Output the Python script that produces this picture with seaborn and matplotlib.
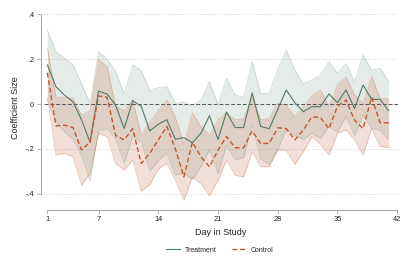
import numpy as np
import matplotlib
matplotlib.use("Agg")
import matplotlib.pyplot as plt
import seaborn as sns
import pandas as pd

days = list(range(1, 42))

treat = [0.175, 0.078, 0.04, 0.01, -0.07, -0.17, 0.058, 0.045, -0.005, -0.11,
         0.015, -0.01, -0.12, -0.09, -0.07, -0.157, -0.15, -0.173, -0.13, -0.052,
         -0.158, -0.035, -0.105, -0.105, 0.05, -0.1, -0.11, -0.024, 0.063, 0.006,
         -0.034, -0.012, -0.012, 0.045, 0.006, 0.063, -0.02, 0.085, 0.021, 0.021,
         -0.03]
treat_hi = [0.33, 0.234, 0.205, 0.175, 0.09, 0.003, 0.234, 0.2, 0.145, 0.045,
            0.175, 0.15, 0.06, 0.073, 0.078, 0.003, 0.01, -0.009, 0.02, 0.1,
            -0.005, 0.115, 0.04, 0.03, 0.19, 0.045, 0.05, 0.155, 0.24, 0.152,
            0.09, 0.107, 0.13, 0.19, 0.137, 0.18, 0.1, 0.22, 0.15, 0.16,
            0.1]
treat_lo = [0.02, -0.078, -0.125, -0.155, -0.23, -0.343, -0.118, -0.11, -0.155, -0.265,
            -0.145, -0.17, -0.3, -0.253, -0.218, -0.317, -0.31, -0.337, -0.28, -0.204,
            -0.311, -0.185, -0.25, -0.24, -0.09, -0.245, -0.27, -0.203, -0.114, -0.14,
            -0.158, -0.131, -0.154, -0.1, -0.125, -0.054, -0.14, -0.05, -0.108, -0.118,
            -0.16]

ctrl = [0.14, -0.098, -0.094, -0.105, -0.205, -0.17, 0.036, 0.03, -0.14, -0.16,
        -0.11, -0.265, -0.22, -0.16, -0.10, -0.2, -0.325, -0.17, -0.236, -0.28,
        -0.206, -0.145, -0.195, -0.195, -0.12, -0.176, -0.176, -0.106, -0.11, -0.16,
        -0.116, -0.057, -0.06, -0.11, -0.01, 0.018, -0.072, -0.11, 0.03, -0.084,
        -0.084]
ctrl_hi = [0.25, 0.032, 0.03, 0.026, -0.05, -0.03, 0.197, 0.167, -0.01, -0.03,
           0.02, -0.14, -0.08, -0.03, 0.018, -0.06, -0.18, -0.04, -0.1, -0.14,
           -0.07, -0.04, -0.07, -0.065, 0.03, -0.07, -0.065, 0.003, -0.005, -0.057,
           -0.01, 0.036, 0.063, -0.012, 0.085, 0.12, 0.04, 0.003, 0.125, 0.025,
           0.025]
ctrl_lo = [0.03, -0.228, -0.22, -0.236, -0.363, -0.31, -0.13, -0.146, -0.266, -0.295,
           -0.25, -0.39, -0.36, -0.29, -0.265, -0.34, -0.43, -0.325, -0.355, -0.41,
           -0.34, -0.25, -0.318, -0.325, -0.213, -0.28, -0.28, -0.206, -0.206, -0.27,
           -0.213, -0.146, -0.18, -0.228, -0.13, -0.116, -0.16, -0.228, -0.11, -0.19,
           -0.194]

xticks = [1, 7, 14, 21, 28, 35, 42]
yticks = [-0.4, -0.2, 0, 0.2, 0.4]
ytick_labels = ["-.4", "-.2", "0", ".2", ".4"]

sns.set_style("white")
plt.rcParams["font.family"] = ["Liberation Sans", "DejaVu Sans"]

c_treat = "#4f7a68"
c_ctrl = "#c0562a"

fig = plt.figure(figsize=(4.07, 2.71), dpi=100)
ax = fig.add_axes([0.108, 0.2524, 0.870, 0.7026])

# confidence bands
ax.fill_between(days, treat_lo, treat_hi, color="#8aa89a", alpha=0.22, lw=0)
ax.plot(days, treat_hi, color="#8aa89a", alpha=0.4, lw=0.6)
ax.plot(days, treat_lo, color="#8aa89a", alpha=0.4, lw=0.6)
ax.fill_between(days, ctrl_lo, ctrl_hi, color="#c8704a", alpha=0.22, lw=0)
ax.plot(days, ctrl_hi, color="#c8704a", alpha=0.35, lw=0.6)
ax.plot(days, ctrl_lo, color="#c8704a", alpha=0.35, lw=0.6)

ax.axhline(0, color="#555555", lw=0.7, ls=(0, (4, 2)), zorder=3)
for v in [-0.4, -0.2, 0.2, 0.4]:
    ax.axhline(v, color="#d4d4d4", lw=0.7, ls=(0, (1, 1.5)), zorder=0)

sns.lineplot(x=days, y=treat, ax=ax, color=c_treat, lw=0.8, label="Treatment", zorder=4)
sns.lineplot(x=days, y=ctrl, ax=ax, color=c_ctrl, lw=1.0, label="Control", zorder=4)
ax.lines[-1].set_dashes([3.5, 2])

ax.set_xlim(0.6, 42.1)
ax.set_ylim(-0.44, 0.41)
ax.set_xticks(xticks)
ax.set_yticks(yticks)
ax.set_yticklabels(ytick_labels)
ax.tick_params(axis="both", labelsize=5.3, colors="#222222", length=3, width=0.6,
               direction="out", pad=2)
ax.tick_params(axis="both", color="#aaaaaa")
ax.tick_params(axis="x", bottom=True)
ax.tick_params(axis="y", left=True)

sns.despine(ax=ax, offset={"left": 2, "bottom": 5}, trim=True)
for s in ["left", "bottom"]:
    ax.spines[s].set_color("#aaaaaa")
    ax.spines[s].set_linewidth(0.8)

ax.set_xlabel("Day in Study", fontsize=6.5, color="#222222", labelpad=3)
ax.set_ylabel("Coefficient Size", fontsize=6.5, color="#222222", labelpad=4)

leg = ax.legend(loc="center", bbox_to_anchor=(0.497, -0.25), ncol=2, frameon=False,
                fontsize=5, handlelength=2.0, handletextpad=0.7, columnspacing=2.2)
leg.get_lines()[1].set_dashes([3.5, 2])

fig.savefig("out.png", dpi=100)
